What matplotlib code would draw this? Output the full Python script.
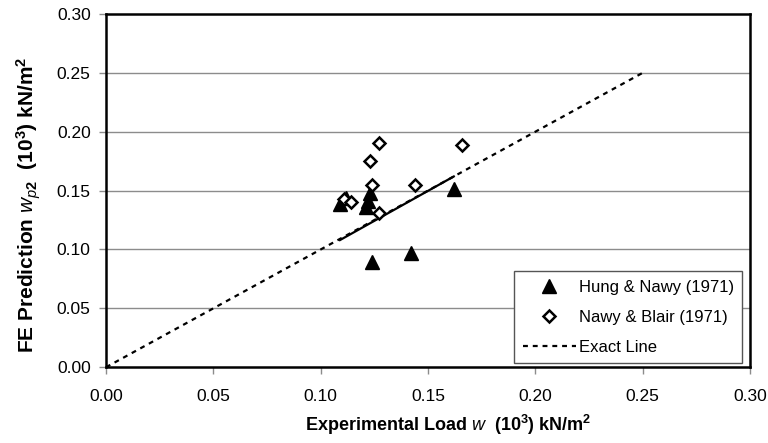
import numpy as np
import matplotlib.pyplot as plt

plt.rcParams['font.family'] = ['Liberation Sans', 'DejaVu Sans']
plt.rcParams['mathtext.fontset'] = 'custom'
plt.rcParams['mathtext.rm'] = 'Liberation Sans:bold'
plt.rcParams['mathtext.it'] = 'Liberation Sans:italic'
plt.rcParams['mathtext.bf'] = 'Liberation Sans:bold'

# Hung & Nawy (1971): experimental load vs FE prediction
hung_exp = [0.109, 0.112, 0.121, 0.122, 0.123, 0.124, 0.142, 0.162]
hung_fe = [0.139, 0.144, 0.136, 0.141, 0.148, 0.089, 0.097, 0.151]

# Nawy & Blair (1971)
nawy_exp = [0.127, 0.123, 0.124, 0.144, 0.166, 0.127, 0.111, 0.114]
nawy_fe = [0.190, 0.175, 0.155, 0.155, 0.189, 0.131, 0.143, 0.140]

# exact line and trend through the data
exact_x = [0.0, 0.25]
exact_y = [0.0, 0.25]
trend_x = [0.109, 0.162]
trend_y = [0.108, 0.162]

ticks = [0.00, 0.05, 0.10, 0.15, 0.20, 0.25, 0.30]

fig = plt.figure(figsize=(7.68, 4.43), dpi=100)
ax = fig.add_axes([0.138, 0.171, 0.8386, 0.7975])

for t in ticks[1:-1]:
    ax.axhline(t, color='#8c8c8c', linewidth=1.0, zorder=0)

ax.plot(exact_x, exact_y, color='black', linestyle=(0, (2.2, 2.2)), linewidth=1.6,
        label='Exact Line', zorder=2)
ax.plot(trend_x, trend_y, color='black', linewidth=1.6, zorder=2)

ax.plot(hung_exp, hung_fe, linestyle='none', marker='^', markersize=10.5,
        color='black', label='Hung & Nawy (1971)', zorder=3)
ax.plot(nawy_exp, nawy_fe, linestyle='none', marker='D', markersize=6.5,
        markerfacecolor='white', markeredgecolor='black', markeredgewidth=1.8,
        label='Nawy & Blair (1971)', zorder=4)

ax.set_xlim(0, 0.30)
ax.set_ylim(0, 0.30)
ax.set_xticks(ticks)
ax.set_yticks(ticks)
ax.set_xticklabels([f'{t:.2f}' for t in ticks])
ax.set_yticklabels([f'{t:.2f}' for t in ticks])
ax.tick_params(direction='out', length=5, width=1.0, color='#8c8c8c',
               labelsize=12.5, pad=6)
ax.tick_params(axis='x', pad=11)

for side in ax.spines.values():
    side.set_linewidth(1.8)
    side.set_color('black')

ax.set_xlabel(r'Experimental Load $w$  (10$^{\mathbf{3}}$) kN/m$^{\mathbf{2}}$',
              fontsize=13, fontweight='bold')
ax.set_ylabel(r'FE Prediction $w_{p2}$  (10$^{\mathbf{3}}$) kN/m$^{\mathbf{2}}$',
              fontsize=15, fontweight='bold')
ax.xaxis.set_label_coords(0.532, -0.128)
ax.yaxis.set_label_coords(-0.098, 0.459)

handles, labels = ax.get_legend_handles_labels()
order = [1, 2, 0]
leg = ax.legend([handles[i] for i in order], [labels[i] for i in order],
                loc='lower right', bbox_to_anchor=(0.9876, 0.012), fontsize=12,
                frameon=True, fancybox=False, framealpha=1, edgecolor='#555555',
                handlelength=3.2, handletextpad=0.15, borderpad=0.5,
                borderaxespad=0, labelspacing=0.9)
leg.get_frame().set_linewidth(1.0)

fig.savefig('out.png', dpi=100)
